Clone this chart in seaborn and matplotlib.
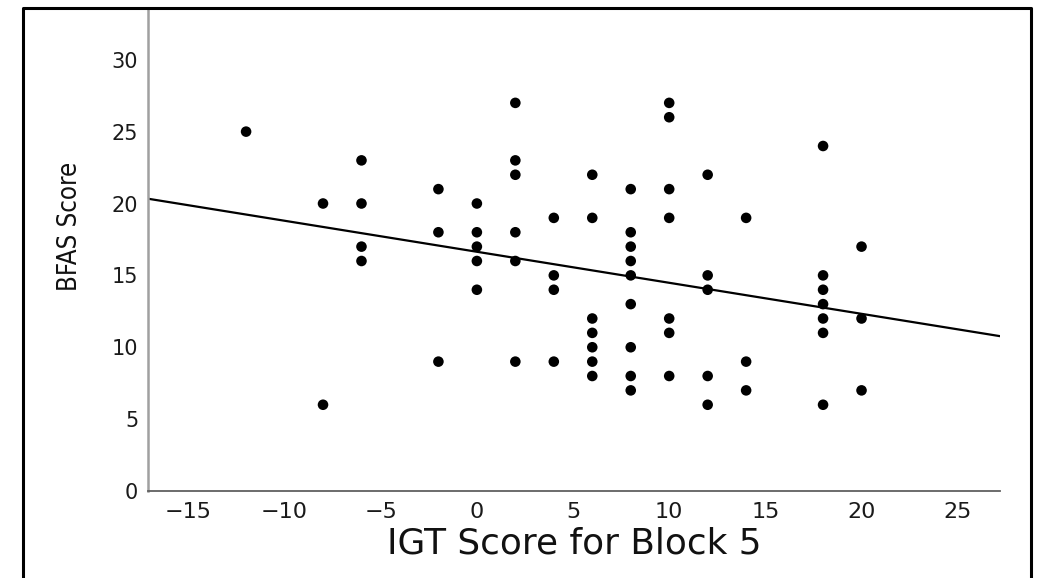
import matplotlib
matplotlib.use("Agg")
import matplotlib.pyplot as plt
from matplotlib.lines import Line2D
from matplotlib import font_manager
import seaborn as sns
import pandas as pd

# IGT score (x) groups and BFAS scores (y)
igt_values = [-12, -8, -6, -2, 0, 2, 4, 6, 8, 10, 12, 14, 18, 20]
bfas_by_igt = [
    [25],
    [20, 6],
    [23, 20, 17, 16],
    [21, 18, 9],
    [20, 18, 17, 16, 14],
    [27, 23, 22, 18, 16, 9],
    [19, 15, 14, 9],
    [22, 19, 12, 11, 10, 9, 8],
    [21, 18, 17, 16, 15, 13, 10, 8, 7],
    [27, 26, 21, 19, 12, 11, 8],
    [22, 15, 14, 8, 6],
    [19, 9, 7],
    [24, 15, 14, 13, 12, 11, 6],
    [17, 12, 7],
]
x_ticks = [-15, -10, -5, 0, 5, 10, 15, 20, 25]
y_ticks = [0, 5, 10, 15, 20, 25, 30]
x_label = "IGT Score for Block 5"
y_label = "BFAS Score"

rows = [(x, y) for x, ys in zip(igt_values, bfas_by_igt) for y in ys]
df = pd.DataFrame(rows, columns=["igt", "bfas"])

sns.set_theme(style="white")
plt.rcParams['font.family'] = ['DejaVu Sans']

# look for a condensed face for the y label
cond_path = None
for f in font_manager.fontManager.ttflist:
    fn = f.fname.lower()
    if ("condensed" in fn or "narrow" in fn) and "bold" not in fn and "italic" not in fn \
            and "oblique" not in fn and ("dejavusans" in fn or "liberation" in fn or "opensans" in fn or "roboto" in fn or "noto" in fn):
        cond_path = f.fname
        if "dejavusanscondensed.ttf" in fn or "narrow-regular" in fn:
            break

fig = plt.figure(figsize=(10.38, 5.78), dpi=100)
ax = fig.add_axes([148/1038, 1 - 491/578, (1000-148)/1038, (491-8)/578])
ax.set_xlim(-17.1, 27.2)
ax.set_ylim(0, 33.6)

sns.regplot(data=df, x="igt", y="bfas", ax=ax, ci=None, truncate=False,
            scatter_kws=dict(s=58, color="black", edgecolor="none", alpha=1),
            line_kws=dict(color="black", lw=1.6))

ax.set_xlim(-17.1, 27.2)
ax.set_ylim(0, 33.6)
ax.set_xticks(x_ticks)
ax.set_yticks(y_ticks)
ax.set_xticklabels([f"\u2212{abs(t)}" if t < 0 else str(t) for t in x_ticks])
ax.tick_params(axis="both", length=0, colors="#1a1a1a")
ax.tick_params(axis="x", pad=8, labelsize=16)
ax.tick_params(axis="y", pad=7, labelsize=15)

ax.set_xlabel(x_label, fontsize=25.8, color="#111111")
ax.xaxis.set_label_coords(0.5, (491 - 543) / 483)
ax.xaxis.label.set_va("center")

if cond_path:
    yl_font = font_manager.FontProperties(fname=cond_path, size=18.5)
else:
    yl_font = font_manager.FontProperties(family="DejaVu Sans", size=17)
ax.set_ylabel(y_label, fontproperties=yl_font, color="#111111")
ax.yaxis.set_label_coords((70 - 148) / 852, (491 - 226) / 483)
ax.yaxis.label.set_va("center")

for s in ["top", "right"]:
    ax.spines[s].set_visible(False)
ax.spines["left"].set_color("#a0a0a0")
ax.spines["left"].set_linewidth(1.8)
ax.spines["bottom"].set_color("#606060")
ax.spines["bottom"].set_linewidth(1.3)

# outer frame (left, top, right)
fx0, fx1, fy1 = 23/1038, 1031/1038, 1 - 7.5/578
fig.add_artist(Line2D([fx0, fx0, fx1, fx1], [0, fy1, fy1, 0],
                      transform=fig.transFigure, color="black", lw=2.2))

fig.savefig("out.png", dpi=100)
